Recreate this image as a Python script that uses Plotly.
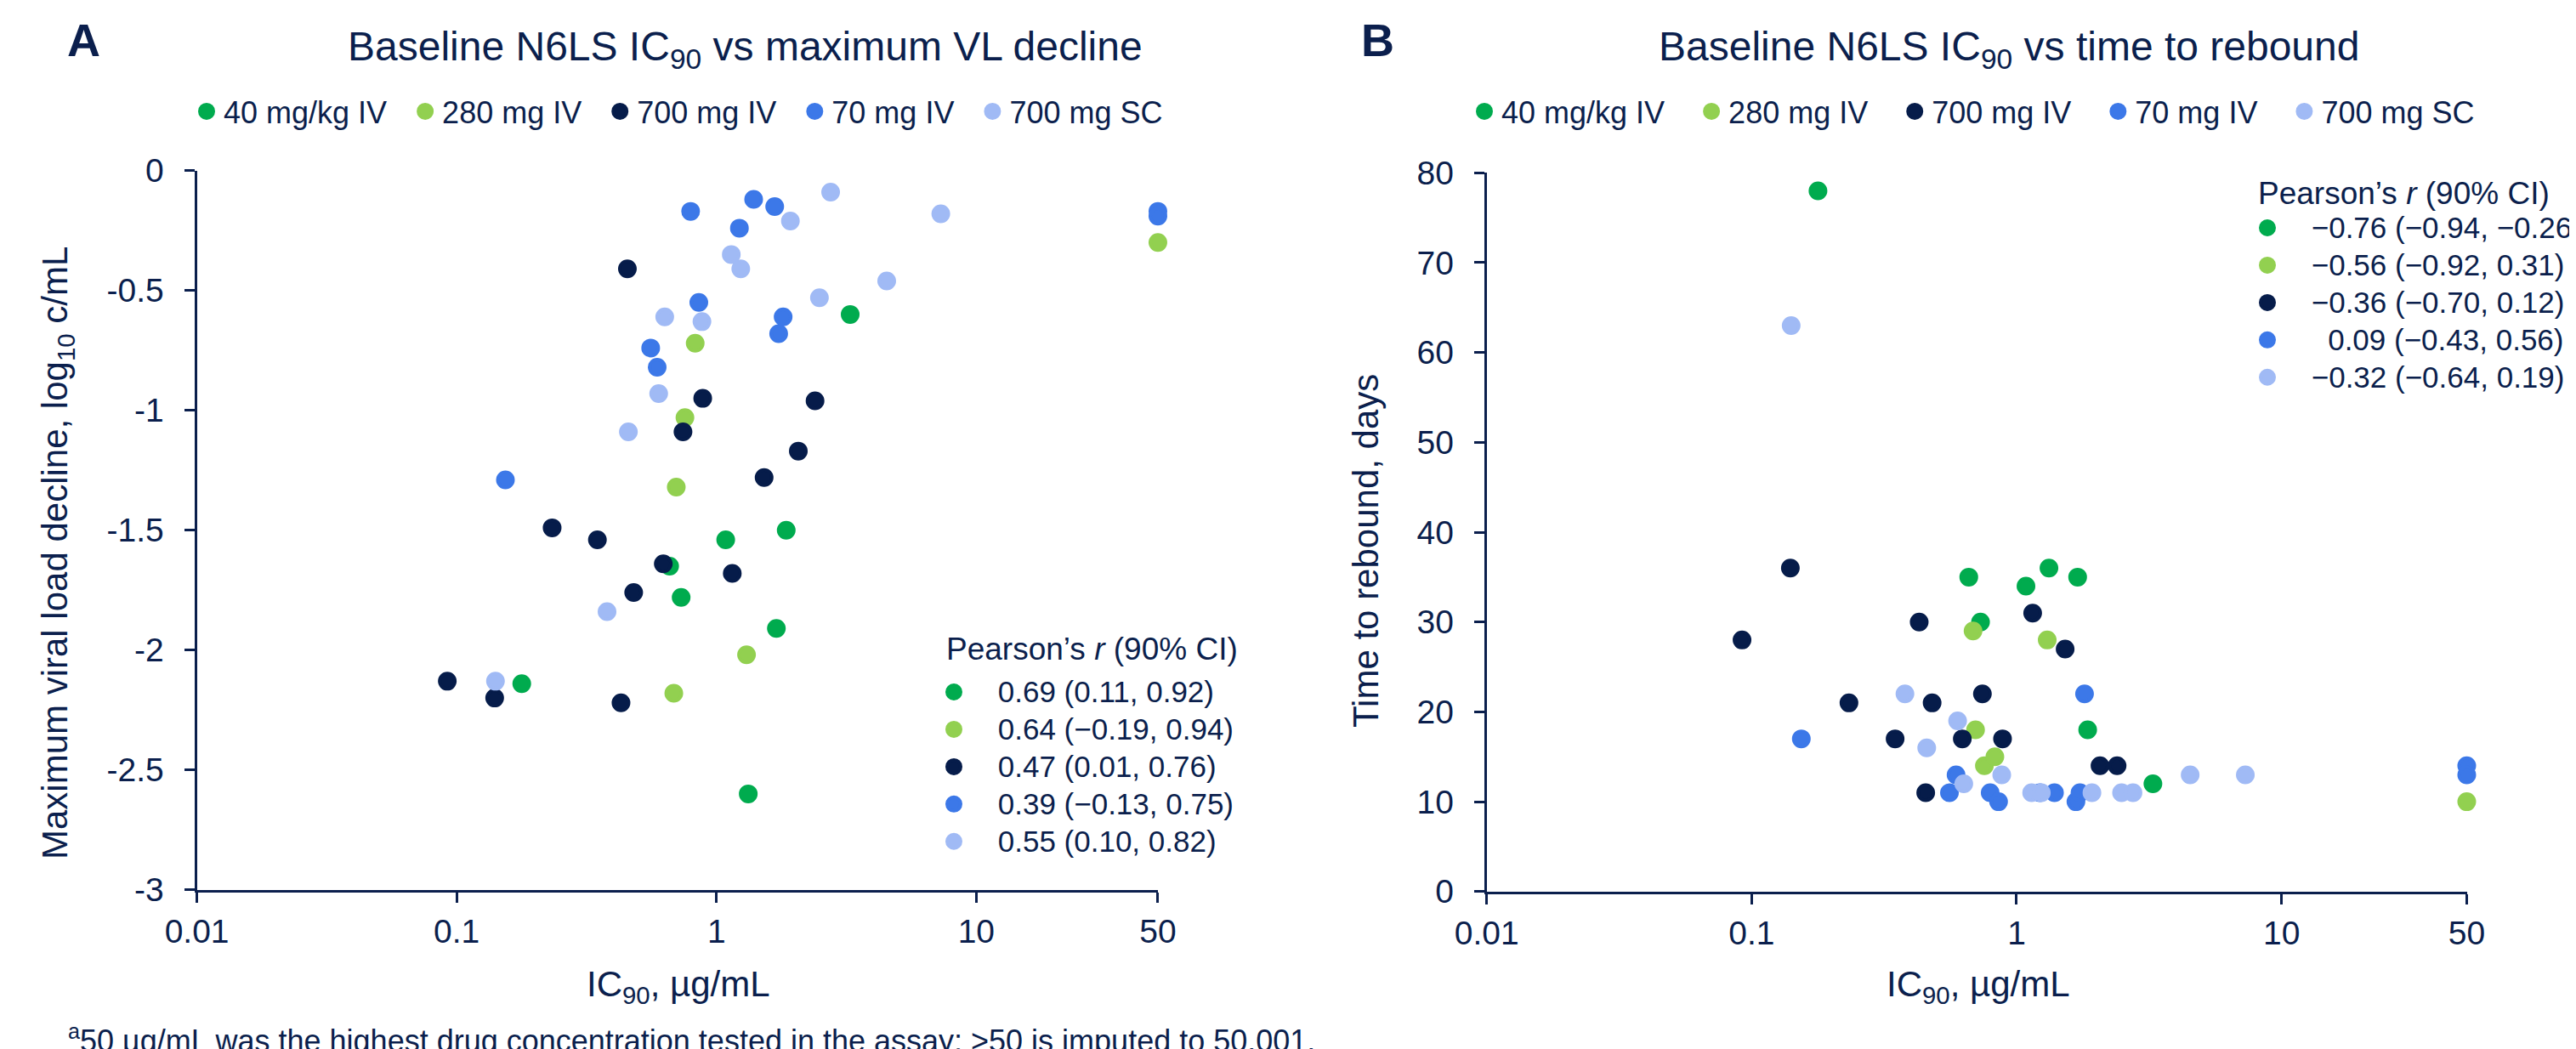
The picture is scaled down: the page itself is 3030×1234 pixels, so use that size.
import math
import plotly.graph_objects as go

# ---------------- data ----------------
groups = ["40 mg/kg IV", "280 mg IV", "700 mg IV", "70 mg IV", "700 mg SC"]
colors = ["#00AB4E", "#92D050", "#061C4A", "#3C78E8", "#A0BAF5"]

ic90_40mgkg = [0.178, 0.66, 0.731, 1.085, 1.325, 1.70, 1.855, 3.27]
vl_40mgkg = [-2.14, -1.65, -1.78, -1.54, -2.60, -1.91, -1.50, -0.60]
reb_40mgkg = [78, 35, 30, 34, 36, 35, 18, 12]

ic90_280mg = [0.685, 0.70, 0.756, 0.828, 1.305, 50.001]
vl_280mg = [-2.18, -1.32, -1.03, -0.72, -2.02, -0.30]
reb_280mg = [29, 18, 14, 15, 28, 10]

ic90_700iv = [0.092, 0.140, 0.233, 0.348, 0.429, 0.454, 0.480, 0.624, 0.743,
              0.885, 1.15, 1.525, 2.065, 2.395]
vl_700iv = [-2.13, -2.20, -1.49, -1.54, -2.22, -0.41, -1.76, -1.64, -1.09,
            -0.95, -1.68, -1.28, -1.17, -0.96]
reb_700iv = [28, 36, 21, 17, 30, 11, 21, 17, 22, 17, 31, 27, 14, 14]

ic90_70iv = [0.154, 0.558, 0.591, 0.795, 0.855, 1.225, 1.39, 1.675, 1.735,
             1.805, 50.001, 50.001]
vl_70iv = [-1.29, -0.74, -0.82, -0.17, -0.55, -0.24, -0.12, -0.15, -0.68,
           -0.61, -0.17, -0.19]
reb_70iv = [17, 11, 13, 11, 10, 11, 11, 10, 11, 22, 14, 13]

ic90_700sc = [0.141, 0.379, 0.458, 0.599, 0.632, 0.879, 1.14, 1.24, 1.925,
              2.49, 2.75, 4.52, 7.3]
vl_700sc = [-2.13, -1.84, -1.09, -0.93, -0.61, -0.63, -0.35, -0.41, -0.21,
            -0.53, -0.09, -0.46, -0.18]
reb_700sc = [63, 22, 16, 19, 12, 13, 11, 11, 11, 11, 11, 13, 13]

pearson_a = ["0.69 (0.11, 0.92)", "0.64 (\u22120.19, 0.94)", "0.47 (0.01, 0.76)",
             "0.39 (\u22120.13, 0.75)", "0.55 (0.10, 0.82)"]
pearson_b = ["\u22120.76 (\u22120.94, \u22120.26)", "\u22120.56 (\u22120.92, 0.31)",
             "\u22120.36 (\u22120.70, 0.12)", "\u00a0\u00a00.09 (\u22120.43, 0.56)",
             "\u22120.32 (\u22120.64, 0.19)"]

x_tickvals = [0.01, 0.1, 1, 10, 50]
x_ticktext = ["0.01", "0.1", "1", "10", "50"]
ya_tickvals = [0, -0.5, -1, -1.5, -2, -2.5, -3]
ya_ticktext = ["0", "-0.5", "-1", "-1.5", "-2", "-2.5", "-3"]
yb_tickvals = [0, 10, 20, 30, 40, 50, 60, 70, 80]

ic90_all = [ic90_40mgkg, ic90_280mg, ic90_700iv, ic90_70iv, ic90_700sc]
vl_all = [vl_40mgkg, vl_280mg, vl_700iv, vl_70iv, vl_700sc]
reb_all = [reb_40mgkg, reb_280mg, reb_700iv, reb_70iv, reb_700sc]

# ---------------- style ----------------
W, H = 3030, 1234
OFF = 8  # default page body margin
NAVY = "#0B1F4D"
FONT = "Liberation Sans, Arial, sans-serif"
MS = 18
MLW = 4


def mk(col):
    return dict(color=col, size=MS, line=dict(width=MLW, color=col))


def px_x(p):
    return (p - OFF) / W


def px_y(p):
    return 1 - (p - OFF) / H


def big(t, s=35):
    return '<span style="font-size:%dpx">%s</span>' % (s, t)


fig = go.Figure()

for name, col, xs, ys in zip(groups, colors, ic90_all, vl_all):
    fig.add_trace(go.Scatter(x=xs, y=ys, mode="markers", name=name + "\u00a0\u00a0",
                             marker=mk(col), xaxis="x", yaxis="y", legend="legend",
                             cliponaxis=False))
for name, col, xs, ys in zip(groups, colors, ic90_all, reb_all):
    fig.add_trace(go.Scatter(x=xs, y=ys, mode="markers", name=name + "\u00a0\u00a0\u00a0",
                             marker=mk(col), xaxis="x2", yaxis="y2", legend="legend2",
                             cliponaxis=False))
for txt, col in zip(pearson_a, colors):
    fig.add_trace(go.Scatter(x=[None], y=[None], mode="markers",
                             name=big("\u00a0\u2009" + txt), marker=mk(col),
                             xaxis="x", yaxis="y", legend="legend3"))
for txt, col in zip(pearson_b, colors):
    fig.add_trace(go.Scatter(x=[None], y=[None], mode="markers",
                             name=big("\u00a0\u2009" + txt), marker=mk(col),
                             xaxis="x2", yaxis="y2", legend="legend4"))

axis_common = dict(showline=True, linecolor=NAVY, linewidth=3, ticks="outside",
                   ticklen=12, tickwidth=3, tickcolor=NAVY, showgrid=False,
                   zeroline=False, tickfont=dict(size=39, color=NAVY, family=FONT))

xa = dict(type="log", range=[-2, math.log10(50.01)], tickvals=x_tickvals,
          ticktext=x_ticktext, ticklabelstandoff=0, **axis_common)

leg_font = dict(size=36, color=NAVY, family=FONT)
p_font = dict(size=31.5, color=NAVY, family=FONT)

fig.update_layout(
    width=W, height=H, margin=dict(l=0, r=0, t=0, b=0, autoexpand=False),
    paper_bgcolor="white", plot_bgcolor="white",
    font=dict(family=FONT, color=NAVY),
    xaxis=dict(domain=[px_x(231.6), px_x(1362)], anchor="y", **xa),
    yaxis=dict(domain=[px_y(1046.7), px_y(200.7)], anchor="x", range=[-3, 0],
               tickvals=ya_tickvals, ticktext=ya_ticktext, ticklabelstandoff=16,
               **axis_common),
    xaxis2=dict(domain=[px_x(1748.7), px_x(2901.5)], anchor="y2", **xa),
    yaxis2=dict(domain=[px_y(1048.8), px_y(203.3)], anchor="x2", range=[0, 80],
                tickvals=yb_tickvals, ticklabelstandoff=16, **axis_common),
    legend=dict(orientation="h", x=px_x(223), xanchor="left", y=px_y(101), yanchor="top",
                font=leg_font, bgcolor="rgba(0,0,0,0)", traceorder="normal"),
    legend2=dict(orientation="h", x=px_x(1726), xanchor="left", y=px_y(101), yanchor="top",
                 font=leg_font, bgcolor="rgba(0,0,0,0)", traceorder="normal"),
    legend3=dict(orientation="v", x=px_x(1087), xanchor="left", y=px_y(787), yanchor="top",
                 font=p_font, bgcolor="rgba(0,0,0,0)", itemwidth=60, tracegroupgap=0,
                 traceorder="normal"),
    legend4=dict(orientation="v", x=px_x(2632), xanchor="left", y=px_y(241), yanchor="top",
                 font=p_font, bgcolor="rgba(0,0,0,0)", itemwidth=60, tracegroupgap=0,
                 traceorder="normal"),
    showlegend=True,
)

ann = [
    dict(text="<b>A</b>", x=px_x(77), y=px_y(47), xanchor="left", yanchor="middle",
         font=dict(size=54)),
    dict(text="<b>B</b>", x=px_x(1599), y=px_y(47), xanchor="left", yanchor="middle",
         font=dict(size=54)),
    dict(text="Baseline N6LS IC<sub>90</sub> vs maximum VL decline", x=px_x(407),
         y=px_y(58), xanchor="left", yanchor="middle", font=dict(size=48)),
    dict(text="Baseline N6LS IC<sub>90</sub> vs time to rebound", x=px_x(1949),
         y=px_y(58), xanchor="left", yanchor="middle", font=dict(size=48)),
    dict(text="Pearson\u2019s <i>r</i> (90% CI)", x=px_x(1111), y=px_y(763),
         xanchor="left", yanchor="middle", font=dict(size=37)),
    dict(text="Pearson\u2019s <i>r</i> (90% CI)", x=px_x(2654), y=px_y(227),
         xanchor="left", yanchor="middle", font=dict(size=37)),
    dict(text="IC<sub>90</sub>, \u00b5g/mL", x=px_x(798), y=px_y(1160),
         xanchor="center", yanchor="middle", font=dict(size=42)),
    dict(text="IC<sub>90</sub>, \u00b5g/mL", x=px_x(2327), y=px_y(1160),
         xanchor="center", yanchor="middle", font=dict(size=42)),
    dict(text="Maximum viral load decline, log<sub>10</sub> c/mL", x=px_x(67),
         y=px_y(651), xanchor="center", yanchor="middle", textangle=-90,
         font=dict(size=42)),
    dict(text="Time to rebound, days", x=px_x(1606), y=px_y(648), xanchor="center",
         yanchor="middle", textangle=-90, font=dict(size=42)),
    dict(text="<sup>a</sup>50 \u00b5g/mL was the highest drug concentration tested in the "
              "assay; &gt;50 is imputed to 50.001.",
         x=px_x(78), y=px_y(1222), xanchor="left", yanchor="middle", font=dict(size=36)),
]
for a in ann:
    a.update(xref="paper", yref="paper", showarrow=False)
    a["font"].setdefault("color", NAVY)
    a["font"].setdefault("family", FONT)
fig.update_layout(annotations=ann)

fig.write_html("out.html")
